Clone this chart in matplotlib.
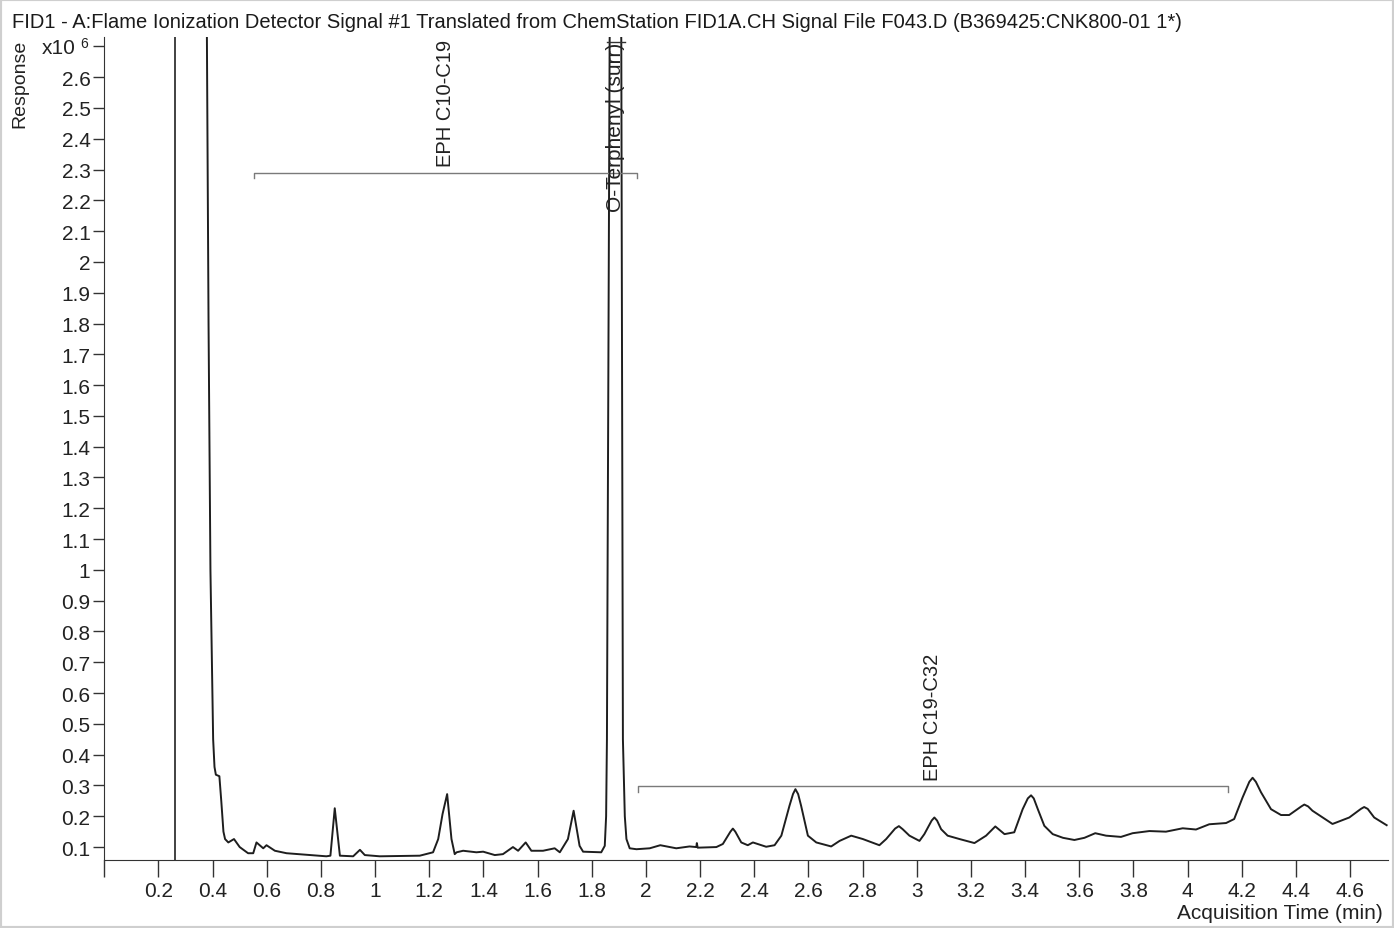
import matplotlib
matplotlib.use("Agg")
import matplotlib.pyplot as plt
from matplotlib import font_manager
from matplotlib.patches import Rectangle

# pick a narrow sans if we have one
names = {f.name for f in font_manager.fontManager.ttflist}
narrow = 'Liberation Sans Narrow' if 'Liberation Sans Narrow' in names else 'Liberation Sans'
plt.rcParams['font.family'] = ['Liberation Sans', 'DejaVu Sans']

# data (response in x10^6 counts)
time_min = [0.374, 0.379, 0.385, 0.392, 0.402, 0.407, 0.412, 0.425, 0.432, 0.440,
            0.446, 0.458, 0.479, 0.500, 0.531, 0.550, 0.562, 0.587, 0.599, 0.630,
            0.673, 0.820, 0.835, 0.851, 0.870, 0.919, 0.944, 0.962, 1.017, 1.165,
            1.214, 1.233, 1.249, 1.266, 1.282, 1.294, 1.301, 1.325, 1.374, 1.399,
            1.442, 1.472, 1.509, 1.528, 1.556, 1.577, 1.620, 1.663, 1.682, 1.712,
            1.733, 1.755, 1.768, 1.835, 1.848, 1.853, 1.856, 1.866, 1.888, 1.909,
            1.915, 1.922, 1.928, 1.940, 1.965, 2.014, 2.053, 2.112, 2.161, 2.186,
            2.188, 2.191, 2.260, 2.284, 2.312, 2.321, 2.330, 2.352, 2.376, 2.395,
            2.444, 2.475, 2.500, 2.530, 2.543, 2.552, 2.562, 2.573, 2.598, 2.629,
            2.684, 2.715, 2.758, 2.801, 2.862, 2.887, 2.920, 2.934, 2.948, 2.973,
            3.010, 3.028, 3.055, 3.065, 3.075, 3.090, 3.114, 3.158, 3.213, 3.256,
            3.290, 3.324, 3.360, 3.391, 3.410, 3.422, 3.432, 3.447, 3.471, 3.502,
            3.540, 3.582, 3.619, 3.659, 3.699, 3.754, 3.797, 3.859, 3.920, 3.982,
            4.031, 4.080, 4.142, 4.172, 4.203, 4.228, 4.240, 4.252, 4.271, 4.308,
            4.345, 4.375, 4.420, 4.431, 4.445, 4.461, 4.535, 4.597, 4.640, 4.652,
            4.665, 4.689, 4.735]
response = [3.50, 2.72, 1.80, 1.00, 0.45, 0.36, 0.335, 0.33, 0.25, 0.15,
            0.126, 0.115, 0.126, 0.100, 0.080, 0.080, 0.115, 0.096, 0.106, 0.088,
            0.080, 0.070, 0.072, 0.226, 0.072, 0.070, 0.091, 0.074, 0.070, 0.072,
            0.083, 0.126, 0.207, 0.272, 0.126, 0.077, 0.083, 0.088, 0.083, 0.085,
            0.074, 0.077, 0.100, 0.088, 0.115, 0.088, 0.088, 0.096, 0.083, 0.126,
            0.218, 0.104, 0.085, 0.083, 0.104, 0.200, 0.45, 2.72, 4.00, 2.72,
            0.45, 0.200, 0.126, 0.096, 0.093, 0.096, 0.106, 0.096, 0.102, 0.100,
            0.113, 0.098, 0.100, 0.110, 0.150, 0.160, 0.150, 0.115, 0.106, 0.115,
            0.101, 0.106, 0.137, 0.234, 0.272, 0.288, 0.272, 0.234, 0.137, 0.115,
            0.102, 0.120, 0.137, 0.126, 0.106, 0.126, 0.160, 0.168, 0.158, 0.137,
            0.120, 0.142, 0.186, 0.196, 0.186, 0.158, 0.137, 0.126, 0.113, 0.137,
            0.167, 0.142, 0.148, 0.223, 0.258, 0.268, 0.258, 0.223, 0.169, 0.142,
            0.130, 0.123, 0.130, 0.145, 0.137, 0.133, 0.145, 0.152, 0.150, 0.161,
            0.157, 0.174, 0.178, 0.191, 0.261, 0.312, 0.325, 0.312, 0.278, 0.223,
            0.204, 0.204, 0.232, 0.238, 0.232, 0.218, 0.175, 0.196, 0.224, 0.230,
            0.224, 0.196, 0.171]

event_line = 0.263
surr_rt = 1.888
ranges = [(0.553, 1.966, 2.29, 'EPH C10-C19'),
          (1.969, 4.150, 0.298, 'EPH C19-C32')]

y_ticks = [0.1, 0.2, 0.3, 0.4, 0.5, 0.6, 0.7, 0.8, 0.9, 1.0, 1.1, 1.2, 1.3, 1.4,
           1.5, 1.6, 1.7, 1.8, 1.9, 2.0, 2.1, 2.2, 2.3, 2.4, 2.5, 2.6, 2.7]
x_ticks = [0, 0.2, 0.4, 0.6, 0.8, 1.0, 1.2, 1.4, 1.6, 1.8, 2.0, 2.2, 2.4, 2.6,
           2.8, 3.0, 3.2, 3.4, 3.6, 3.8, 4.0, 4.2, 4.4, 4.6]

fig = plt.figure(figsize=(13.94, 9.29), dpi=100)
fig.patches.append(Rectangle((0, 0), 1, 1, transform=fig.transFigure, fill=False,
                             edgecolor='#cfcfcf', linewidth=3))
ax = fig.add_axes([0.0748, 0.0732, 0.9209, 0.8858])

ax.plot(time_min, response, color='#1e1e1e', linewidth=1.4, solid_joinstyle='round')
ax.axvline(event_line, color='#333333', linewidth=1.3)

# integration range brackets
for t0, t1, lev, name in ranges:
    ax.plot([t0, t0, t1, t1], [lev - 0.018, lev, lev, lev - 0.018], color='#7a7a7a', linewidth=1)
    ax.text((t0 + t1) / 2, lev + 0.02, name, rotation=90, ha='center', va='bottom',
            fontsize=14.5, family=narrow, color='#222222')

ax.plot([surr_rt - 0.033, surr_rt + 0.033], [2.714, 2.714], color='#333333', linewidth=1)
ax.text(surr_rt, 2.165, 'O-Terphenyl (surr)', rotation=90, ha='center', va='bottom',
        fontsize=15, family=narrow, color='#222222')

ax.set_xlim(0, 4.74)
ax.set_ylim(0.058, 2.73)
ax.set_xticks(x_ticks)
ax.set_xticklabels([''] + [f'{v:g}' for v in x_ticks[1:]])
ax.set_yticks(y_ticks)
ax.set_yticklabels([f'{v:g}' for v in y_ticks[:-1]] + [''])
ax.tick_params(axis='both', direction='out', width=1, color='#333333',
               labelsize=15, labelcolor='#222222')
ax.tick_params(axis='y', length=8, pad=2)
ax.tick_params(axis='x', length=12, pad=3)
for lab in ax.get_xticklabels() + ax.get_yticklabels():
    lab.set_family(narrow)
ax.spines['top'].set_visible(False)
ax.spines['right'].set_visible(False)
ax.spines['left'].set_color('#333333')
ax.spines['bottom'].set_color('#333333')

fig.text(0.0086, 0.976, 'FID1 - A:Flame Ionization Detector Signal #1 Translated from '
         'ChemStation FID1A.CH Signal File F043.D (B369425:CNK800-01 1*)',
         ha='left', va='center', fontsize=14.5, family=narrow, color='#1a1a1a')
fig.text(0.0145, 0.957, 'Response', rotation=90, ha='center', va='top',
         fontsize=14, family=narrow, color='#222222')
fig.text(0.030, 0.948, 'x10', ha='left', va='center', fontsize=15, family=narrow, color='#222222')
fig.text(0.0575, 0.953, '6', ha='left', va='center', fontsize=10, family=narrow, color='#222222')
fig.text(0.992, 0.017, 'Acquisition Time (min)', ha='right', va='center',
         fontsize=15, family=narrow, color='#222222')

fig.savefig('out.png', dpi=100, facecolor='white')
